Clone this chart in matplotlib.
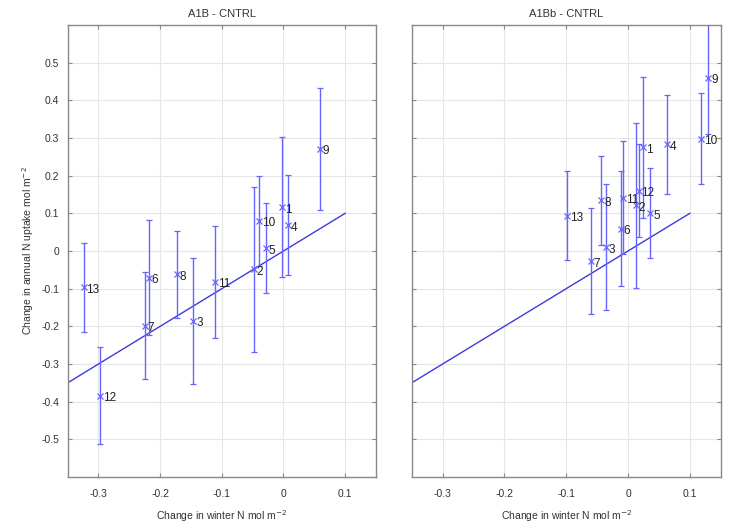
import matplotlib
matplotlib.use("Agg")
import matplotlib.pyplot as plt
import numpy as np

plt.rcParams['font.family'] = ['Liberation Sans', 'DejaVu Sans']
plt.rcParams['axes.unicode_minus'] = False

# Data: left panel (A1B - CNTRL)
labels_a = ['1', '2', '3', '4', '5', '6', '7', '8', '9', '10', '11', '12', '13']
x_a = [-0.002, -0.048, -0.146, 0.007, -0.029, -0.218, -0.225, -0.173, 0.059, -0.040, -0.111, -0.297, -0.324]
y_a = [0.116, -0.049, -0.185, 0.068, 0.008, -0.071, -0.198, -0.062, 0.271, 0.080, -0.082, -0.384, -0.096]
err_a = [0.186, 0.219, 0.167, 0.133, 0.120, 0.152, 0.141, 0.116, 0.161, 0.120, 0.148, 0.128, 0.118]

# Data: right panel (A1Bb - CNTRL)
labels_b = ['1', '2', '3', '4', '5', '6', '7', '8', '9', '10', '11', '12', '13']
x_b = [0.025, 0.013, -0.036, 0.063, 0.036, -0.012, -0.060, -0.043, 0.130, 0.118, -0.008, 0.017, -0.099]
y_b = [0.275, 0.121, 0.010, 0.283, 0.101, 0.059, -0.027, 0.135, 0.460, 0.298, 0.142, 0.160, 0.094]
err_b = [0.187, 0.220, 0.167, 0.131, 0.120, 0.153, 0.141, 0.118, 0.150, 0.121, 0.151, 0.124, 0.119]

# 1:1 reference line
line_x = [-0.35, 0.1]
line_y = [-0.35, 0.1]

xticks = [-0.3, -0.2, -0.1, 0, 0.1]
xticklabels = ['-0.3', '-0.2', '-0.1', '0', '0.1']
yticks = [-0.5, -0.4, -0.3, -0.2, -0.1, 0, 0.1, 0.2, 0.3, 0.4, 0.5]
yticklabels = ['-0.5', '-0.4', '-0.3', '-0.2', '-0.1', '0', '0.1', '0.2', '0.3', '0.4', '0.5']

fig = plt.figure(figsize=(7.3, 5.24), dpi=100)
ax1 = fig.add_axes([0.0927, 0.0897, 0.4223, 0.8626])
ax2 = fig.add_axes([0.564, 0.0897, 0.4233, 0.8626])

bar_col = '#6666ff'
line_col = '#3b3bdd'

def draw(ax, xs, ys, errs, labs, title, show_ylabels):
    ax.errorbar(xs, ys, yerr=errs, fmt='x', color=bar_col, ecolor=bar_col,
                elinewidth=1.0, capsize=2, capthick=0.8, markersize=4,
                markeredgewidth=0.9, zorder=3)
    ax.plot(line_x, line_y, color=line_col, lw=1.0, zorder=2)
    for xv, yv, lb in zip(xs, ys, labs):
        ax.annotate(lb, (xv, yv), xytext=(2, -4), textcoords='offset points',
                    fontsize=8.5, color='#222222', zorder=4)
    ax.set_xlim(-0.35, 0.15)
    ax.set_ylim(-0.6, 0.6)
    ax.set_xticks(xticks)
    ax.set_xticklabels(xticklabels)
    ax.set_yticks(yticks)
    if show_ylabels:
        ax.set_yticklabels(yticklabels)
    else:
        ax.set_yticklabels([])
    ax.grid(True, color='#e6e6e6', lw=0.8, zorder=0)
    ax.set_axisbelow(True)
    ax.tick_params(direction='in', top=True, right=True, length=3,
                   labelsize=7.5, color='#888888', labelcolor='#333333', pad=6)
    ax.tick_params(axis='x', pad=9)
    for s in ax.spines.values():
        s.set_color('#888888')
        s.set_linewidth(1.0)
    ax.set_title(title, fontsize=8, color='#333333', pad=6)
    ax.set_xlabel('Change in winter N mol m$^{-2}$', fontsize=7.5, color='#333333',
                  labelpad=6)

draw(ax1, x_a, y_a, err_a, labels_a, 'A1B - CNTRL', True)
draw(ax2, x_b, y_b, err_b, labels_b, 'A1Bb - CNTRL', False)
ax1.set_ylabel('Change in annual N uptake mol m$^{-2}$', fontsize=7.5, color='#333333')

fig.savefig('out.png', dpi=100)
